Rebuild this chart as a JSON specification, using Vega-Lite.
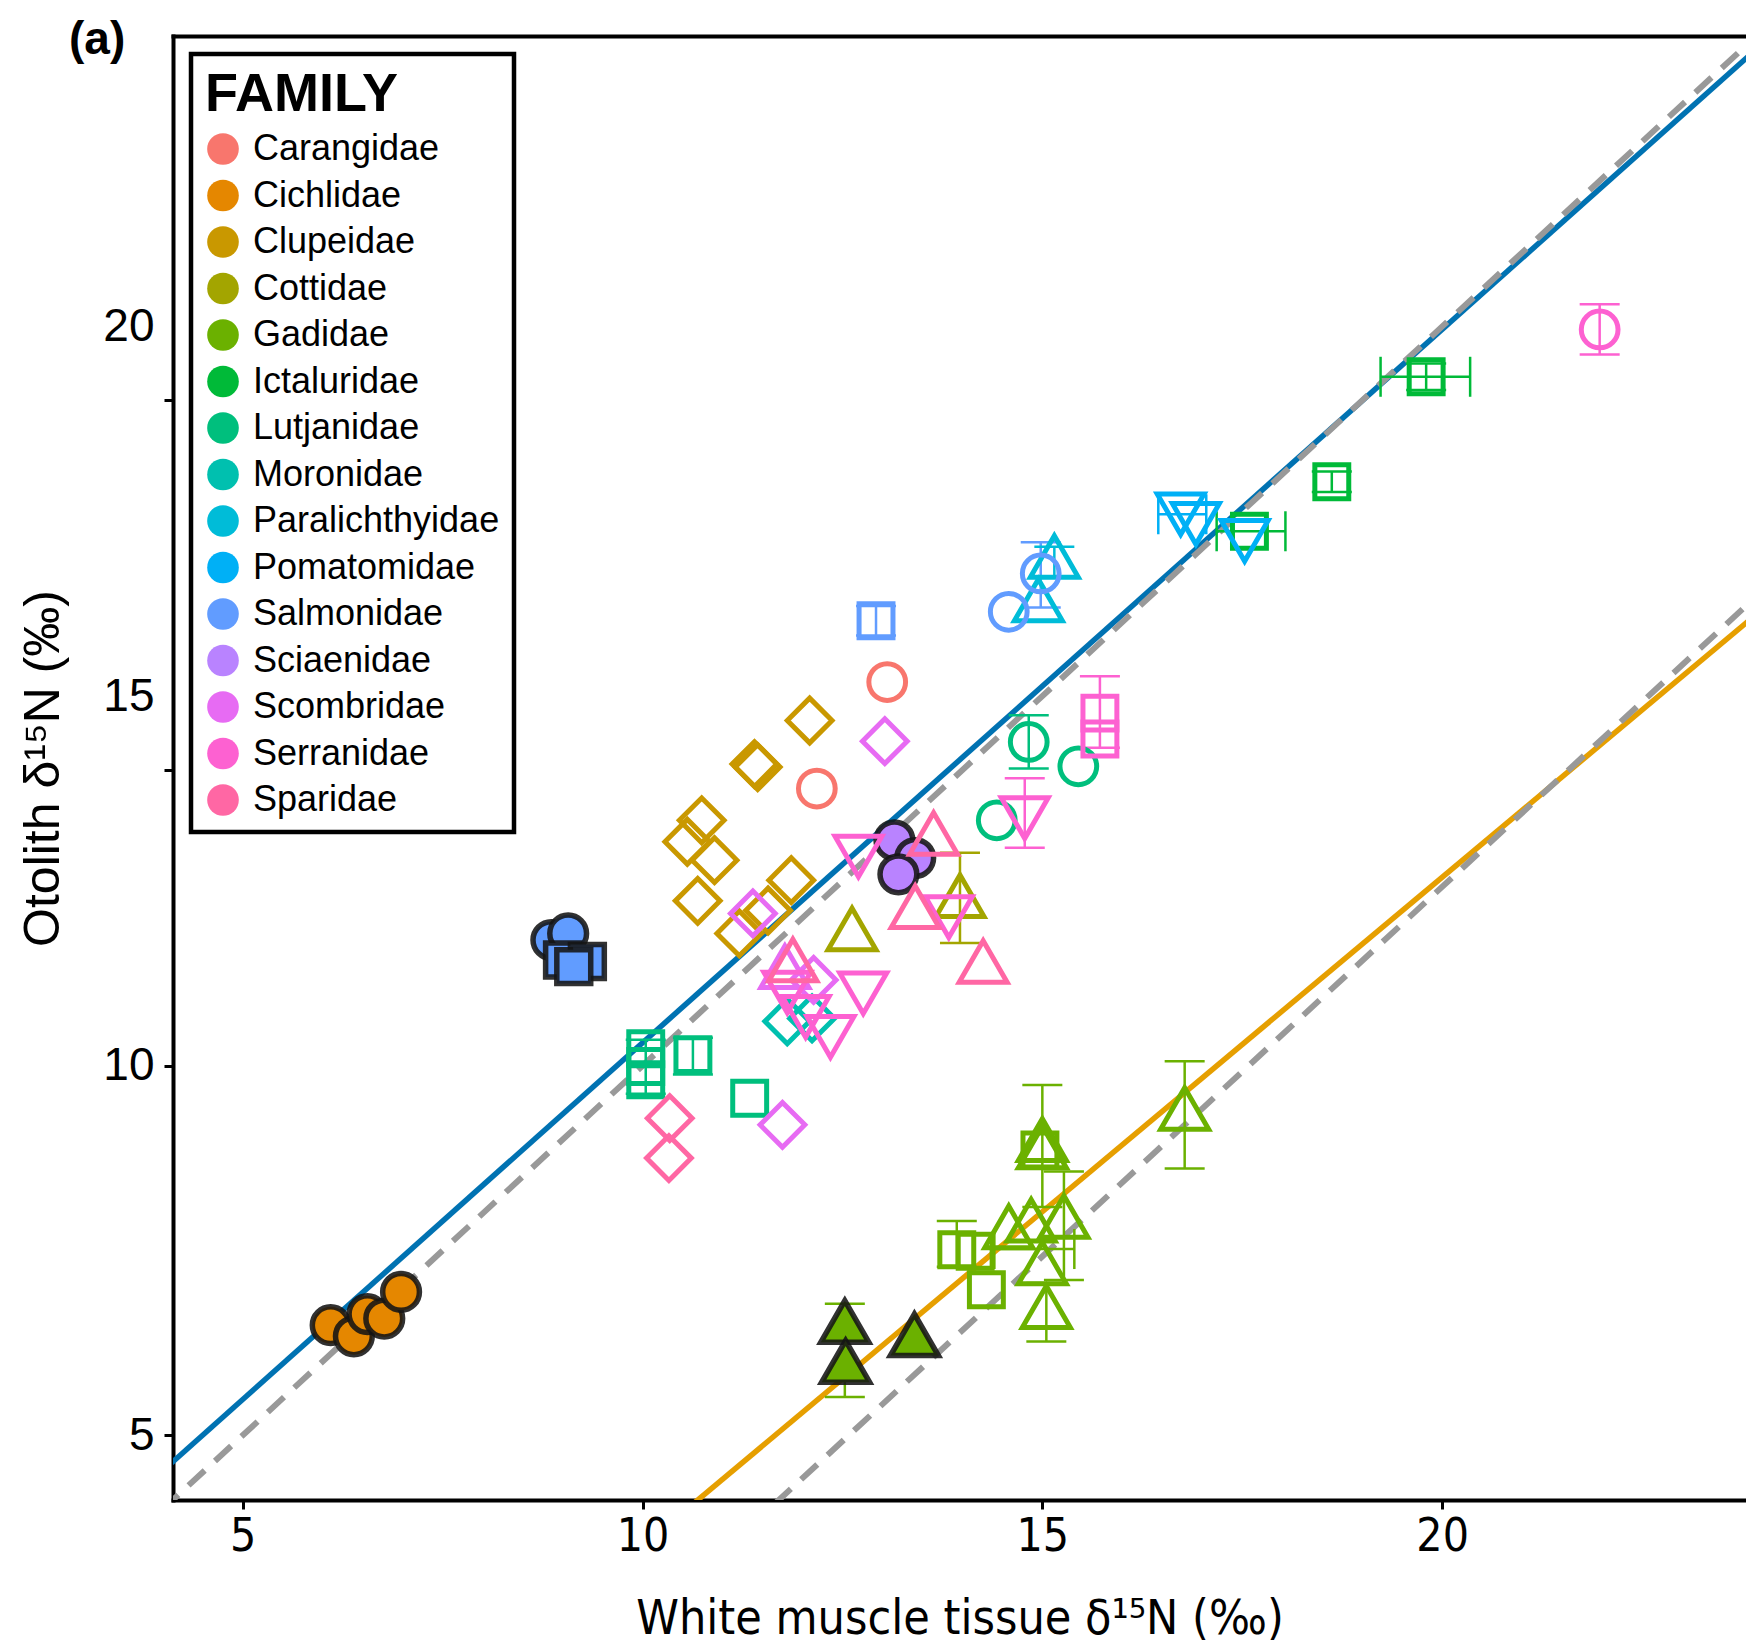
{
  "$schema": "https://vega.github.io/schema/vega-lite/v6.json",
  "width": 1573,
  "height": 1464,
  "autosize": {"type": "none"},
  "padding": {"left": 173, "top": 36, "right": 0, "bottom": 145},
  "background": "white",
  "title": {"text": "(a)", "anchor": "start", "frame": "group", "orient": "top", "offset": 0, "dx": -104, "dy": 64, "fontSize": 46, "font": "Liberation Sans", "fontWeight": "bold", "color": "black", "baseline": "alphabetic"},
  "config": {
    "view": {"stroke": null},
    "axis": {"domainColor": "black", "domainWidth": 4, "domainCap": "square", "tickColor": "black", "tickWidth": 3, "tickSize": 9, "labelColor": "black", "titleColor": "black", "grid": false, "labelFont": "Liberation Sans", "titleFont": "Liberation Sans", "titleFontWeight": "normal", "zindex": 1, "labelOverlap": false},
    "axisY": {"labelFontSize": 46, "labelPadding": 10, "titleFontSize": 50, "titlePadding": 34},
    "axisX": {"labelFontSize": 46, "labelFont": "Liberation Sans Narrow, DejaVu Sans Condensed, Liberation Sans", "labelPadding": 5, "titleFont": "Liberation Sans Narrow, DejaVu Sans Condensed, Liberation Sans", "titleFontSize": 48, "titlePadding": 36},
    "legend": {"strokeColor": "black", "strokeWidth": 4.5, "fillColor": "white"}
  },
  "datasets": {
    "points": [
      {"family": "Carangidae", "study": "S1", "source": "field", "muscle": 13.06, "otolith": 15.19},
      {"family": "Carangidae", "study": "S1", "source": "field", "muscle": 12.18, "otolith": 13.75},
      {"family": "Cichlidae", "study": "S1", "source": "lab", "muscle": 6.10, "otolith": 6.49},
      {"family": "Cichlidae", "study": "S1", "source": "lab", "muscle": 6.39, "otolith": 6.34},
      {"family": "Cichlidae", "study": "S1", "source": "lab", "muscle": 6.56, "otolith": 6.64},
      {"family": "Cichlidae", "study": "S1", "source": "lab", "muscle": 6.77, "otolith": 6.58},
      {"family": "Cichlidae", "study": "S1", "source": "lab", "muscle": 6.98, "otolith": 6.94},
      {"family": "Clupeidae", "study": "S5", "source": "field", "muscle": 12.09, "otolith": 14.67},
      {"family": "Clupeidae", "study": "S5", "source": "field", "muscle": 11.40, "otolith": 14.08},
      {"family": "Clupeidae", "study": "S5", "source": "field", "muscle": 11.44, "otolith": 14.04},
      {"family": "Clupeidae", "study": "S5", "source": "field", "muscle": 10.74, "otolith": 13.32},
      {"family": "Clupeidae", "study": "S5", "source": "field", "muscle": 10.56, "otolith": 13.03},
      {"family": "Clupeidae", "study": "S5", "source": "field", "muscle": 10.90, "otolith": 12.78},
      {"family": "Clupeidae", "study": "S5", "source": "field", "muscle": 10.69, "otolith": 12.23},
      {"family": "Clupeidae", "study": "S5", "source": "field", "muscle": 11.86, "otolith": 12.51},
      {"family": "Clupeidae", "study": "S5", "source": "field", "muscle": 11.57, "otolith": 12.10},
      {"family": "Clupeidae", "study": "S5", "source": "field", "muscle": 11.21, "otolith": 11.79},
      {"family": "Cottidae", "study": "S3", "source": "field", "muscle": 13.97, "otolith": 12.30},
      {"family": "Cottidae", "study": "S3", "source": "field", "muscle": 12.62, "otolith": 11.85},
      {"family": "Gadidae", "study": "S3", "source": "field", "muscle": 16.78, "otolith": 9.42},
      {"family": "Gadidae", "study": "S3", "source": "field", "muscle": 15.00, "otolith": 9.00},
      {"family": "Gadidae", "study": "S3", "source": "field", "muscle": 15.00, "otolith": 8.90},
      {"family": "Gadidae", "study": "S3", "source": "field", "muscle": 14.58, "otolith": 7.82},
      {"family": "Gadidae", "study": "S3", "source": "field", "muscle": 14.86, "otolith": 7.91},
      {"family": "Gadidae", "study": "S3", "source": "field", "muscle": 15.27, "otolith": 7.96},
      {"family": "Gadidae", "study": "S3", "source": "field", "muscle": 15.00, "otolith": 7.33},
      {"family": "Gadidae", "study": "S3", "source": "field", "muscle": 15.05, "otolith": 6.74},
      {"family": "Gadidae", "study": "S2", "source": "field", "muscle": 14.97, "otolith": 8.86},
      {"family": "Gadidae", "study": "S2", "source": "field", "muscle": 13.93, "otolith": 7.51},
      {"family": "Gadidae", "study": "S2", "source": "field", "muscle": 14.16, "otolith": 7.49},
      {"family": "Gadidae", "study": "S2", "source": "field", "muscle": 14.30, "otolith": 6.97},
      {"family": "Gadidae", "study": "S3", "source": "lab", "muscle": 12.53, "otolith": 6.54},
      {"family": "Gadidae", "study": "S3", "source": "lab", "muscle": 12.54, "otolith": 6.00},
      {"family": "Gadidae", "study": "S3", "source": "lab", "muscle": 13.40, "otolith": 6.36},
      {"family": "Ictaluridae", "study": "S2", "source": "field", "muscle": 19.80, "otolith": 19.32},
      {"family": "Ictaluridae", "study": "S2", "source": "field", "muscle": 18.62, "otolith": 17.90},
      {"family": "Ictaluridae", "study": "S2", "source": "field", "muscle": 17.59, "otolith": 17.23},
      {"family": "Lutjanidae", "study": "S2", "source": "field", "muscle": 10.04, "otolith": 10.23},
      {"family": "Lutjanidae", "study": "S2", "source": "field", "muscle": 10.04, "otolith": 9.99},
      {"family": "Lutjanidae", "study": "S2", "source": "field", "muscle": 10.04, "otolith": 9.81},
      {"family": "Lutjanidae", "study": "S2", "source": "field", "muscle": 10.63, "otolith": 10.15},
      {"family": "Lutjanidae", "study": "S2", "source": "field", "muscle": 11.34, "otolith": 9.56},
      {"family": "Lutjanidae", "study": "S1", "source": "field", "muscle": 14.83, "otolith": 14.38},
      {"family": "Lutjanidae", "study": "S1", "source": "field", "muscle": 15.45, "otolith": 14.05},
      {"family": "Lutjanidae", "study": "S1", "source": "field", "muscle": 14.43, "otolith": 13.32},
      {"family": "Moronidae", "study": "S5", "source": "field", "muscle": 11.81, "otolith": 10.60},
      {"family": "Moronidae", "study": "S5", "source": "field", "muscle": 12.12, "otolith": 10.64},
      {"family": "Paralichthyidae", "study": "S3", "source": "field", "muscle": 15.15, "otolith": 16.89},
      {"family": "Paralichthyidae", "study": "S3", "source": "field", "muscle": 14.95, "otolith": 16.30},
      {"family": "Pomatomidae", "study": "S4", "source": "field", "muscle": 16.73, "otolith": 17.46},
      {"family": "Pomatomidae", "study": "S4", "source": "field", "muscle": 16.92, "otolith": 17.33},
      {"family": "Pomatomidae", "study": "S4", "source": "field", "muscle": 17.53, "otolith": 17.10},
      {"family": "Salmonidae", "study": "S1", "source": "lab", "muscle": 8.86, "otolith": 11.70},
      {"family": "Salmonidae", "study": "S1", "source": "lab", "muscle": 9.07, "otolith": 11.79},
      {"family": "Salmonidae", "study": "S2", "source": "lab", "muscle": 9.00, "otolith": 11.43},
      {"family": "Salmonidae", "study": "S2", "source": "lab", "muscle": 9.31, "otolith": 11.41},
      {"family": "Salmonidae", "study": "S2", "source": "lab", "muscle": 9.14, "otolith": 11.34},
      {"family": "Salmonidae", "study": "S2", "source": "field", "muscle": 12.92, "otolith": 16.02},
      {"family": "Salmonidae", "study": "S1", "source": "field", "muscle": 14.98, "otolith": 16.66},
      {"family": "Salmonidae", "study": "S1", "source": "field", "muscle": 14.58, "otolith": 16.14},
      {"family": "Sciaenidae", "study": "S1", "source": "lab", "muscle": 13.15, "otolith": 13.05},
      {"family": "Sciaenidae", "study": "S1", "source": "lab", "muscle": 13.41, "otolith": 12.81},
      {"family": "Sciaenidae", "study": "S1", "source": "lab", "muscle": 13.20, "otolith": 12.59},
      {"family": "Scombridae", "study": "S5", "source": "field", "muscle": 13.03, "otolith": 14.39},
      {"family": "Scombridae", "study": "S5", "source": "field", "muscle": 11.38, "otolith": 12.06},
      {"family": "Scombridae", "study": "S5", "source": "field", "muscle": 12.14, "otolith": 11.16},
      {"family": "Scombridae", "study": "S5", "source": "field", "muscle": 11.75, "otolith": 9.20},
      {"family": "Scombridae", "study": "S3", "source": "field", "muscle": 11.78, "otolith": 11.34},
      {"family": "Serranidae", "study": "S1", "source": "field", "muscle": 21.97, "otolith": 19.96},
      {"family": "Serranidae", "study": "S2", "source": "field", "muscle": 15.72, "otolith": 14.77},
      {"family": "Serranidae", "study": "S2", "source": "field", "muscle": 15.72, "otolith": 14.42},
      {"family": "Serranidae", "study": "S4", "source": "field", "muscle": 14.78, "otolith": 13.35},
      {"family": "Serranidae", "study": "S4", "source": "field", "muscle": 12.70, "otolith": 12.83},
      {"family": "Serranidae", "study": "S4", "source": "field", "muscle": 13.83, "otolith": 12.01},
      {"family": "Serranidae", "study": "S4", "source": "field", "muscle": 12.76, "otolith": 10.98},
      {"family": "Serranidae", "study": "S4", "source": "field", "muscle": 12.35, "otolith": 10.39},
      {"family": "Serranidae", "study": "S4", "source": "field", "muscle": 11.81, "otolith": 10.99},
      {"family": "Serranidae", "study": "S4", "source": "field", "muscle": 12.04, "otolith": 10.66},
      {"family": "Sparidae", "study": "S3", "source": "field", "muscle": 13.64, "otolith": 13.14},
      {"family": "Sparidae", "study": "S3", "source": "field", "muscle": 13.41, "otolith": 12.15},
      {"family": "Sparidae", "study": "S3", "source": "field", "muscle": 14.26, "otolith": 11.41},
      {"family": "Sparidae", "study": "S3", "source": "field", "muscle": 11.88, "otolith": 11.43},
      {"family": "Sparidae", "study": "S5", "source": "field", "muscle": 10.34, "otolith": 9.29},
      {"family": "Sparidae", "study": "S5", "source": "field", "muscle": 10.33, "otolith": 8.75}
    ],
    "vbars": [
      {"family": "Serranidae", "muscle": 21.97, "lo": 19.62, "hi": 20.30},
      {"family": "Ictaluridae", "muscle": 19.80, "lo": 19.14, "hi": 19.50},
      {"family": "Ictaluridae", "muscle": 18.62, "lo": 17.76, "hi": 18.04},
      {"family": "Salmonidae", "muscle": 12.92, "lo": 15.82, "hi": 16.22},
      {"family": "Salmonidae", "muscle": 14.98, "lo": 16.20, "hi": 17.08},
      {"family": "Paralichthyidae", "muscle": 15.15, "lo": 16.60, "hi": 17.02},
      {"family": "Serranidae", "muscle": 15.72, "lo": 14.30, "hi": 15.27},
      {"family": "Lutjanidae", "muscle": 14.83, "lo": 14.02, "hi": 14.74},
      {"family": "Serranidae", "muscle": 14.78, "lo": 12.95, "hi": 13.89},
      {"family": "Cottidae", "muscle": 13.97, "lo": 11.66, "hi": 12.88},
      {"family": "Lutjanidae", "muscle": 10.04, "lo": 9.62, "hi": 10.35},
      {"family": "Lutjanidae", "muscle": 10.63, "lo": 9.88, "hi": 10.38},
      {"family": "Gadidae", "muscle": 16.78, "lo": 8.61, "hi": 10.06},
      {"family": "Gadidae", "muscle": 15.00, "lo": 8.09, "hi": 9.74},
      {"family": "Gadidae", "muscle": 15.27, "lo": 7.10, "hi": 8.57},
      {"family": "Gadidae", "muscle": 15.05, "lo": 6.27, "hi": 7.06},
      {"family": "Gadidae", "muscle": 12.53, "lo": 5.52, "hi": 6.78},
      {"family": "Gadidae", "muscle": 13.93, "lo": 7.28, "hi": 7.90}
    ],
    "hbars": [
      {"family": "Ictaluridae", "otolith": 19.32, "lo": 19.23, "hi": 20.35},
      {"family": "Ictaluridae", "otolith": 17.23, "lo": 17.18, "hi": 18.04},
      {"family": "Pomatomidae", "otolith": 17.46, "lo": 16.45, "hi": 17.05},
      {"family": "Gadidae", "otolith": 7.52, "lo": 14.40, "hi": 15.40}
    ],
    "lines": [
      {"line": "Regression upper", "muscle": 3, "otolith": 3.555},
      {"line": "Regression upper", "muscle": 25, "otolith": 24.785},
      {"line": "Regression lower", "muscle": 9, "otolith": 2.595},
      {"line": "Regression lower", "muscle": 25, "otolith": 17.075},
      {"line": "Reference upper", "muscle": 3, "otolith": 3},
      {"line": "Reference upper", "muscle": 25, "otolith": 25},
      {"line": "Reference lower", "muscle": 10, "otolith": 2.42},
      {"line": "Reference lower", "muscle": 25, "otolith": 17.42}
    ]
  },
  "resolve": {"axis": {"x": "independent", "y": "independent"}, "legend": {"color": "independent", "shape": "independent", "size": "independent"}},
  "layer": [
    {
      "data": {"name": "lines"},
      "transform": [{"filter": "datum.line == 'Regression upper'"}],
      "mark": {"type": "line", "color": "#0072B2", "strokeWidth": 5.5, "clip": true},
      "encoding": {
        "x": {"field": "muscle", "type": "quantitative", "scale": {"domain": [4.128, 23.8], "nice": false, "zero": false}, "axis": {"orient": "top", "labels": false, "ticks": false, "title": null, "domain": true}},
        "y": {"field": "otolith", "type": "quantitative", "scale": {"domain": [4.125, 23.93], "nice": false, "zero": false}, "axis": null}
      }
    },
    {
      "data": {"name": "lines"},
      "transform": [{"filter": "datum.line == 'Regression lower'"}],
      "mark": {"type": "line", "color": "#E69F00", "strokeWidth": 5.5, "clip": true},
      "encoding": {
        "x": {"field": "muscle", "type": "quantitative", "axis": null},
        "y": {"field": "otolith", "type": "quantitative", "axis": null}
      }
    },
    {
      "data": {"name": "lines"},
      "transform": [{"filter": "datum.line == 'Reference upper' || datum.line == 'Reference lower'"}],
      "mark": {"type": "line", "color": "#999999", "strokeWidth": 6, "strokeDash": [22, 14], "clip": true},
      "encoding": {
        "x": {"field": "muscle", "type": "quantitative", "axis": null},
        "y": {"field": "otolith", "type": "quantitative", "axis": null},
        "detail": {"field": "line", "type": "nominal"}
      }
    },
    {
      "data": {"name": "vbars"},
      "mark": {"type": "rule", "strokeWidth": 2.5},
      "encoding": {
        "x": {"field": "muscle", "type": "quantitative", "axis": null},
        "y": {"field": "lo", "type": "quantitative", "axis": null},
        "y2": {"field": "hi"},
        "color": {"field": "family", "type": "nominal", "legend": null, "scale": {"domain": ["Carangidae", "Cichlidae", "Clupeidae", "Cottidae", "Gadidae", "Ictaluridae", "Lutjanidae", "Moronidae", "Paralichthyidae", "Pomatomidae", "Salmonidae", "Sciaenidae", "Scombridae", "Serranidae", "Sparidae"], "range": ["#F8766D", "#E58700", "#C99800", "#A3A500", "#6BB100", "#00BA38", "#00BF7D", "#00C0AF", "#00BCD8", "#00B0F6", "#619CFF", "#B983FF", "#E76BF3", "#FD61D1", "#FF67A4"]}}
      }
    },
    {
      "data": {"name": "vbars"},
      "mark": {"type": "tick", "orient": "horizontal", "thickness": 2.5, "size": 40, "opacity": 1},
      "encoding": {
        "x": {"field": "muscle", "type": "quantitative", "axis": null},
        "y": {"field": "lo", "type": "quantitative", "axis": null},
        "color": {"field": "family", "type": "nominal", "legend": null, "scale": {"domain": ["Carangidae", "Cichlidae", "Clupeidae", "Cottidae", "Gadidae", "Ictaluridae", "Lutjanidae", "Moronidae", "Paralichthyidae", "Pomatomidae", "Salmonidae", "Sciaenidae", "Scombridae", "Serranidae", "Sparidae"], "range": ["#F8766D", "#E58700", "#C99800", "#A3A500", "#6BB100", "#00BA38", "#00BF7D", "#00C0AF", "#00BCD8", "#00B0F6", "#619CFF", "#B983FF", "#E76BF3", "#FD61D1", "#FF67A4"]}}
      }
    },
    {
      "data": {"name": "vbars"},
      "mark": {"type": "tick", "orient": "horizontal", "thickness": 2.5, "size": 40, "opacity": 1},
      "encoding": {
        "x": {"field": "muscle", "type": "quantitative", "axis": null},
        "y": {"field": "hi", "type": "quantitative", "axis": null},
        "color": {"field": "family", "type": "nominal", "legend": null, "scale": {"domain": ["Carangidae", "Cichlidae", "Clupeidae", "Cottidae", "Gadidae", "Ictaluridae", "Lutjanidae", "Moronidae", "Paralichthyidae", "Pomatomidae", "Salmonidae", "Sciaenidae", "Scombridae", "Serranidae", "Sparidae"], "range": ["#F8766D", "#E58700", "#C99800", "#A3A500", "#6BB100", "#00BA38", "#00BF7D", "#00C0AF", "#00BCD8", "#00B0F6", "#619CFF", "#B983FF", "#E76BF3", "#FD61D1", "#FF67A4"]}}
      }
    },
    {
      "data": {"name": "hbars"},
      "mark": {"type": "rule", "strokeWidth": 2.5},
      "encoding": {
        "y": {"field": "otolith", "type": "quantitative", "axis": null},
        "x": {"field": "lo", "type": "quantitative", "axis": null},
        "x2": {"field": "hi"},
        "color": {"field": "family", "type": "nominal", "legend": null, "scale": {"domain": ["Carangidae", "Cichlidae", "Clupeidae", "Cottidae", "Gadidae", "Ictaluridae", "Lutjanidae", "Moronidae", "Paralichthyidae", "Pomatomidae", "Salmonidae", "Sciaenidae", "Scombridae", "Serranidae", "Sparidae"], "range": ["#F8766D", "#E58700", "#C99800", "#A3A500", "#6BB100", "#00BA38", "#00BF7D", "#00C0AF", "#00BCD8", "#00B0F6", "#619CFF", "#B983FF", "#E76BF3", "#FD61D1", "#FF67A4"]}}
      }
    },
    {
      "data": {"name": "hbars"},
      "mark": {"type": "tick", "orient": "vertical", "thickness": 2.5, "size": 40, "opacity": 1},
      "encoding": {
        "y": {"field": "otolith", "type": "quantitative", "axis": null},
        "x": {"field": "lo", "type": "quantitative", "axis": null},
        "color": {"field": "family", "type": "nominal", "legend": null, "scale": {"domain": ["Carangidae", "Cichlidae", "Clupeidae", "Cottidae", "Gadidae", "Ictaluridae", "Lutjanidae", "Moronidae", "Paralichthyidae", "Pomatomidae", "Salmonidae", "Sciaenidae", "Scombridae", "Serranidae", "Sparidae"], "range": ["#F8766D", "#E58700", "#C99800", "#A3A500", "#6BB100", "#00BA38", "#00BF7D", "#00C0AF", "#00BCD8", "#00B0F6", "#619CFF", "#B983FF", "#E76BF3", "#FD61D1", "#FF67A4"]}}
      }
    },
    {
      "data": {"name": "hbars"},
      "mark": {"type": "tick", "orient": "vertical", "thickness": 2.5, "size": 40, "opacity": 1},
      "encoding": {
        "y": {"field": "otolith", "type": "quantitative", "axis": null},
        "x": {"field": "hi", "type": "quantitative", "axis": null},
        "color": {"field": "family", "type": "nominal", "legend": null, "scale": {"domain": ["Carangidae", "Cichlidae", "Clupeidae", "Cottidae", "Gadidae", "Ictaluridae", "Lutjanidae", "Moronidae", "Paralichthyidae", "Pomatomidae", "Salmonidae", "Sciaenidae", "Scombridae", "Serranidae", "Sparidae"], "range": ["#F8766D", "#E58700", "#C99800", "#A3A500", "#6BB100", "#00BA38", "#00BF7D", "#00C0AF", "#00BCD8", "#00B0F6", "#619CFF", "#B983FF", "#E76BF3", "#FD61D1", "#FF67A4"]}}
      }
    },
    {
      "data": {"name": "points"},
      "transform": [{"filter": "datum.source == 'lab'"}],
      "mark": {"type": "point", "filled": true, "stroke": "#141414", "strokeWidth": 5.5, "opacity": 1, "strokeOpacity": 0.88},
      "encoding": {
        "x": {"field": "muscle", "type": "quantitative", "axis": null},
        "y": {"field": "otolith", "type": "quantitative", "axis": null},
        "color": {"field": "family", "type": "nominal", "legend": null, "scale": {"domain": ["Carangidae", "Cichlidae", "Clupeidae", "Cottidae", "Gadidae", "Ictaluridae", "Lutjanidae", "Moronidae", "Paralichthyidae", "Pomatomidae", "Salmonidae", "Sciaenidae", "Scombridae", "Serranidae", "Sparidae"], "range": ["#F8766D", "#E58700", "#C99800", "#A3A500", "#6BB100", "#00BA38", "#00BF7D", "#00C0AF", "#00BCD8", "#00B0F6", "#619CFF", "#B983FF", "#E76BF3", "#FD61D1", "#FF67A4"]}},
        "shape": {"field": "study", "type": "nominal", "legend": null, "scale": {"domain": ["S1", "S2", "S3", "S4", "S5"], "range": ["circle", "square", "triangle-up", "triangle-down", "diamond"]}},
        "size": {"field": "study", "type": "nominal", "legend": null, "scale": {"type": "ordinal", "domain": ["S1", "S2", "S3", "S4", "S5"], "range": [1350, 1150, 2300, 2200, 2000]}}
      }
    },
    {
      "data": {"name": "points"},
      "transform": [{"filter": "datum.source == 'field'"}],
      "mark": {"type": "point", "filled": false, "strokeWidth": 5, "opacity": 1},
      "encoding": {
        "x": {"field": "muscle", "type": "quantitative", "axis": {"orient": "bottom", "values": [5, 10, 15, 20], "title": "White muscle tissue δ¹⁵N (‰)"}},
        "y": {"field": "otolith", "type": "quantitative", "axis": {"orient": "left", "values": [5, 10, 14, 15, 19, 20], "title": "Otolith δ¹⁵N (‰)", "labelExpr": "(datum.value == 14 || datum.value == 19) ? '' : datum.label", "tickOpacity": {"condition": {"test": "datum.value == 15 || datum.value == 20", "value": 0}, "value": 1}}},
        "color": {"field": "family", "type": "nominal", "legend": null, "scale": {"domain": ["Carangidae", "Cichlidae", "Clupeidae", "Cottidae", "Gadidae", "Ictaluridae", "Lutjanidae", "Moronidae", "Paralichthyidae", "Pomatomidae", "Salmonidae", "Sciaenidae", "Scombridae", "Serranidae", "Sparidae"], "range": ["#F8766D", "#E58700", "#C99800", "#A3A500", "#6BB100", "#00BA38", "#00BF7D", "#00C0AF", "#00BCD8", "#00B0F6", "#619CFF", "#B983FF", "#E76BF3", "#FD61D1", "#FF67A4"]}},
        "shape": {"field": "study", "type": "nominal", "legend": null, "scale": {"domain": ["S1", "S2", "S3", "S4", "S5"], "range": ["circle", "square", "triangle-up", "triangle-down", "diamond"]}},
        "size": {"field": "study", "type": "nominal", "legend": null, "scale": {"type": "ordinal", "domain": ["S1", "S2", "S3", "S4", "S5"], "range": [1350, 1150, 2300, 2200, 2000]}}
      }
    },
    {
      "data": {"name": "points"},
      "transform": [{"filter": "datum.source == 'legend only'"}],
      "mark": {"type": "point", "filled": true, "shape": "circle", "opacity": 1, "strokeWidth": 0},
      "encoding": {
        "x": {"field": "muscle", "type": "quantitative", "axis": null},
        "y": {"field": "otolith", "type": "quantitative", "axis": null},
        "color": {"field": "family", "type": "nominal", "scale": {"domain": ["Carangidae", "Cichlidae", "Clupeidae", "Cottidae", "Gadidae", "Ictaluridae", "Lutjanidae", "Moronidae", "Paralichthyidae", "Pomatomidae", "Salmonidae", "Sciaenidae", "Scombridae", "Serranidae", "Sparidae"], "range": ["#F8766D", "#E58700", "#C99800", "#A3A500", "#6BB100", "#00BA38", "#00BF7D", "#00C0AF", "#00BCD8", "#00B0F6", "#619CFF", "#B983FF", "#E76BF3", "#FD61D1", "#FF67A4"]},
          "legend": {"title": "FAMILY", "orient": "top-left", "offset": 18, "padding": 14, "titleFontSize": 54, "titleFontWeight": "bold", "titleFont": "Liberation Sans", "titleColor": "black", "titlePadding": 9, "titleLimit": 500, "labelFont": "Liberation Sans", "labelFontSize": 36, "labelColor": "black", "symbolType": "circle", "symbolSize": 1000, "symbolStrokeWidth": 0, "rowPadding": 10.5, "labelOffset": 12, "labelLimit": 400}}
      }
    }
  ]
}
